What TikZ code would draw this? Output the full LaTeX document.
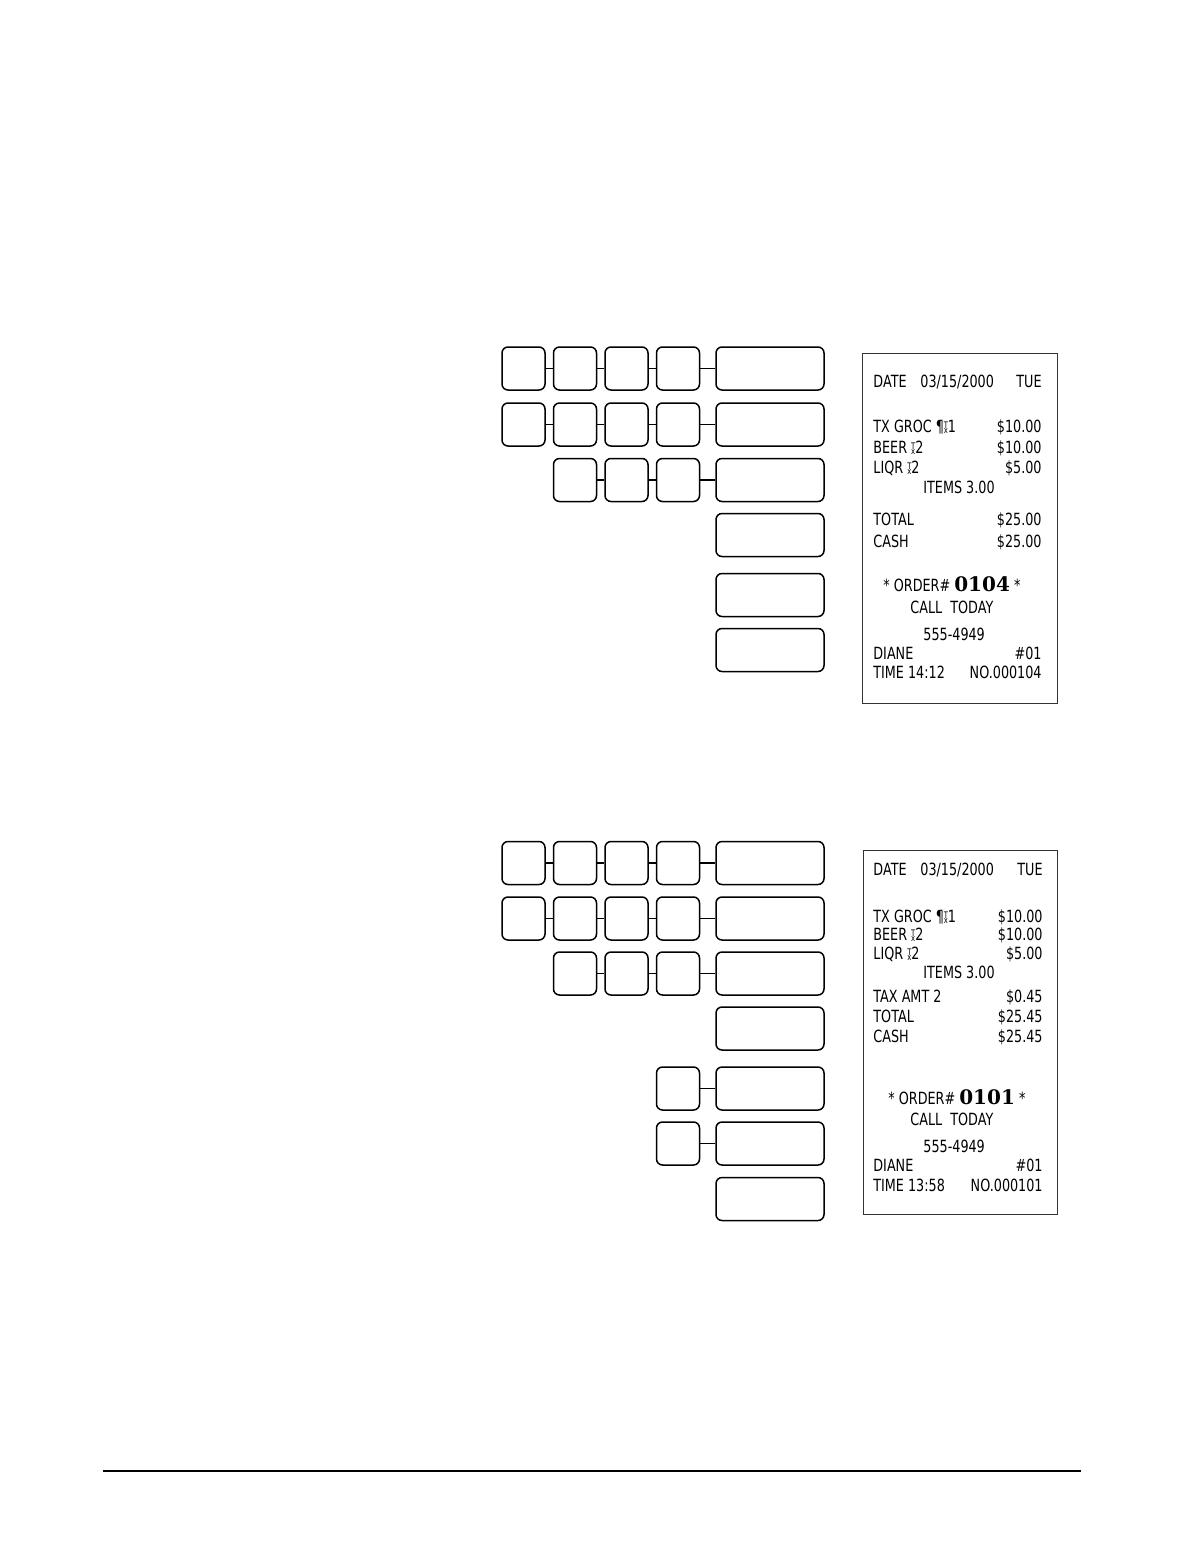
\documentclass[tikz,border=0pt]{standalone}
\usepackage{fontspec}
\usetikzlibrary{positioning}
\newfontfamily\rcptfont[FakeStretch=0.76]{DejaVu Sans}
\newfontfamily\ordfont{DejaVu Serif}
\newcommand{\taxsym}[1]{\rlap{\raisebox{0.5ex}{\fontsize{4.5}{4.5}\selectfont T}}\raisebox{-0.05ex}{\fontsize{4.5}{4.5}\selectfont x}#1}
\tikzset{
  keybox/.style={draw, rounded corners=3pt, line width=0.75pt, minimum width=21.5pt, minimum height=21.5pt, inner sep=0pt},
  widekey/.style={keybox, minimum width=54pt},
  receipt/.style={draw=black!80, line width=0.5pt, inner sep=0pt},
  rtext/.style={font=\rcptfont\fontsize{8.4}{9}\selectfont, inner sep=0pt, text height=6.2pt, text depth=0.6pt},
  link/.style={line width=0.75pt}
}

\begin{document}
\begin{tikzpicture}[x=0.5pt, y=-0.5pt, node distance=3.5pt]
  \useasboundingbox (0,0) rectangle (1186,1568);

  % first sequence of keys
  \node[widekey] (aw) at (770,368.5) {};
  \node[keybox, left=7.5pt of aw] (a4) {};
  \node[keybox, left=of a4] (a3) {};
  \node[keybox, left=of a3] (a2) {};
  \node[keybox, left=of a2] (a1) {};
  \draw[link] (a1) -- (a2);
  \draw[link] (a2) -- (a3);
  \draw[link] (a3) -- (a4);
  \draw[link] (a4) -- (aw);

  \node[widekey] (bw) at (770,424.5) {};
  \node[keybox, left=7.5pt of bw] (b4) {};
  \node[keybox, left=of b4] (b3) {};
  \node[keybox, left=of b3] (b2) {};
  \node[keybox, left=of b2] (b1) {};
  \draw[link] (b1) -- (b2);
  \draw[link] (b2) -- (b3);
  \draw[link] (b3) -- (b4);
  \draw[link] (b4) -- (bw);

  \node[widekey] (cw) at (770,480) {};
  \node[keybox, left=7.5pt of cw] (c4) {};
  \node[keybox, left=of c4] (c3) {};
  \node[keybox, left=of c3] (c2) {};
  \draw[link] (c2) -- (c3);
  \draw[link] (c3) -- (c4);
  \draw[link] (c4) -- (cw);

  \node[widekey] (dw) at (770,535) {};
  \node[widekey] (ew) at (770,595) {};
  \node[widekey] (fw) at (770,650) {};

  % first receipt
  \node[receipt, minimum width=97.5pt, minimum height=175pt] (r1) at (959.5,528) {};
  \node[rtext, anchor=west] (r1date) at (873,382) {DATE};
  \node[rtext, anchor=west] (r1day) at (920,382) {03/15/2000};
  \node[rtext, anchor=east] (r1wd) at (1042,382) {TUE};
  \node[rtext, anchor=west] (r1tx) at (873,427) {TX GROC ¶\taxsym{1}};
  \node[rtext, anchor=east] (r1txv) at (1042,427) {\$10.00};
  \node[rtext, anchor=west] (r1beer) at (873,448) {BEER \taxsym{2}};
  \node[rtext, anchor=east] (r1beerv) at (1042,448) {\$10.00};
  \node[rtext, anchor=west] (r1liqr) at (873,468) {LIQR \taxsym{2}};
  \node[rtext, anchor=east] (r1liqrv) at (1042,468) {\$5.00};
  \node[rtext, anchor=west] (r1items) at (923,488) {ITEMS 3.00};
  \node[rtext, anchor=west] (r1total) at (873,520) {TOTAL};
  \node[rtext, anchor=east] (r1totalv) at (1042,520) {\$25.00};
  \node[rtext, anchor=west] (r1cash) at (873,542) {CASH};
  \node[rtext, anchor=east] (r1cashv) at (1042,542) {\$25.00};
  \node[rtext, anchor=west] (r1order) at (883,586) {* ORDER\# {\ordfont\bfseries\fontsize{10}{11}\selectfont 0104} *};
  \node[rtext, anchor=west] (r1call) at (910,608) {CALL\ \ TODAY};
  \node[rtext, anchor=west] (r1phone) at (923,635) {555-4949};
  \node[rtext, anchor=west] (r1clerk) at (873,654) {DIANE};
  \node[rtext, anchor=east] (r1reg) at (1042,654) {\#01};
  \node[rtext, anchor=west] (r1time) at (873,673) {TIME 14:12};
  \node[rtext, anchor=east] (r1no) at (1042,673) {NO.000104};

  % second sequence of keys
  \node[widekey] (gw) at (770,863) {};
  \node[keybox, left=7.5pt of gw] (g4) {};
  \node[keybox, left=of g4] (g3) {};
  \node[keybox, left=of g3] (g2) {};
  \node[keybox, left=of g2] (g1) {};
  \draw[link] (g1) -- (g2);
  \draw[link] (g2) -- (g3);
  \draw[link] (g3) -- (g4);
  \draw[link] (g4) -- (gw);

  \node[widekey] (hw) at (770,918.5) {};
  \node[keybox, left=7.5pt of hw] (h4) {};
  \node[keybox, left=of h4] (h3) {};
  \node[keybox, left=of h3] (h2) {};
  \node[keybox, left=of h2] (h1) {};
  \draw[link] (h1) -- (h2);
  \draw[link] (h2) -- (h3);
  \draw[link] (h3) -- (h4);
  \draw[link] (h4) -- (hw);

  \node[widekey] (iw) at (770,973.5) {};
  \node[keybox, left=7.5pt of iw] (i4) {};
  \node[keybox, left=of i4] (i3) {};
  \node[keybox, left=of i3] (i2) {};
  \draw[link] (i2) -- (i3);
  \draw[link] (i3) -- (i4);
  \draw[link] (i4) -- (iw);

  \node[widekey] (jw) at (770,1028.5) {};

  \node[widekey] (kw) at (770,1088.5) {};
  \node[keybox, left=7.5pt of kw] (k4) {};
  \draw[link] (k4) -- (kw);

  \node[widekey] (lw) at (770,1143.5) {};
  \node[keybox, left=7.5pt of lw] (l4) {};
  \draw[link] (l4) -- (lw);

  \node[widekey] (mw) at (770,1199) {};

  % second receipt
  \node[receipt, minimum width=97pt, minimum height=182pt] (r2) at (960,1032) {};
  \node[rtext, anchor=west] (r2date) at (873,870) {DATE};
  \node[rtext, anchor=west] (r2day) at (920,870) {03/15/2000};
  \node[rtext, anchor=east] (r2wd) at (1043,870) {TUE};
  \node[rtext, anchor=west] (r2tx) at (873,917) {TX GROC ¶\taxsym{1}};
  \node[rtext, anchor=east] (r2txv) at (1043,917) {\$10.00};
  \node[rtext, anchor=west] (r2beer) at (873,935) {BEER \taxsym{2}};
  \node[rtext, anchor=east] (r2beerv) at (1043,935) {\$10.00};
  \node[rtext, anchor=west] (r2liqr) at (873,954) {LIQR \taxsym{2}};
  \node[rtext, anchor=east] (r2liqrv) at (1043,954) {\$5.00};
  \node[rtext, anchor=west] (r2items) at (923,973) {ITEMS 3.00};
  \node[rtext, anchor=west] (r2tax) at (873,997) {TAX AMT 2};
  \node[rtext, anchor=east] (r2taxv) at (1043,997) {\$0.45};
  \node[rtext, anchor=west] (r2total) at (873,1017) {TOTAL};
  \node[rtext, anchor=east] (r2totalv) at (1043,1017) {\$25.45};
  \node[rtext, anchor=west] (r2cash) at (873,1037) {CASH};
  \node[rtext, anchor=east] (r2cashv) at (1043,1037) {\$25.45};
  \node[rtext, anchor=west] (r2order) at (888,1099) {* ORDER\# {\ordfont\bfseries\fontsize{10}{11}\selectfont 0101} *};
  \node[rtext, anchor=west] (r2call) at (910,1120) {CALL\ \ TODAY};
  \node[rtext, anchor=west] (r2phone) at (923,1147) {555-4949};
  \node[rtext, anchor=west] (r2clerk) at (873,1166) {DIANE};
  \node[rtext, anchor=east] (r2reg) at (1043,1166) {\#01};
  \node[rtext, anchor=west] (r2time) at (873,1186) {TIME 13:58};
  \node[rtext, anchor=east] (r2no) at (1043,1186) {NO.000101};

  % footer rule
  \draw[line width=1pt] (103,1471) -- (1081,1471);
\end{tikzpicture}
\end{document}
